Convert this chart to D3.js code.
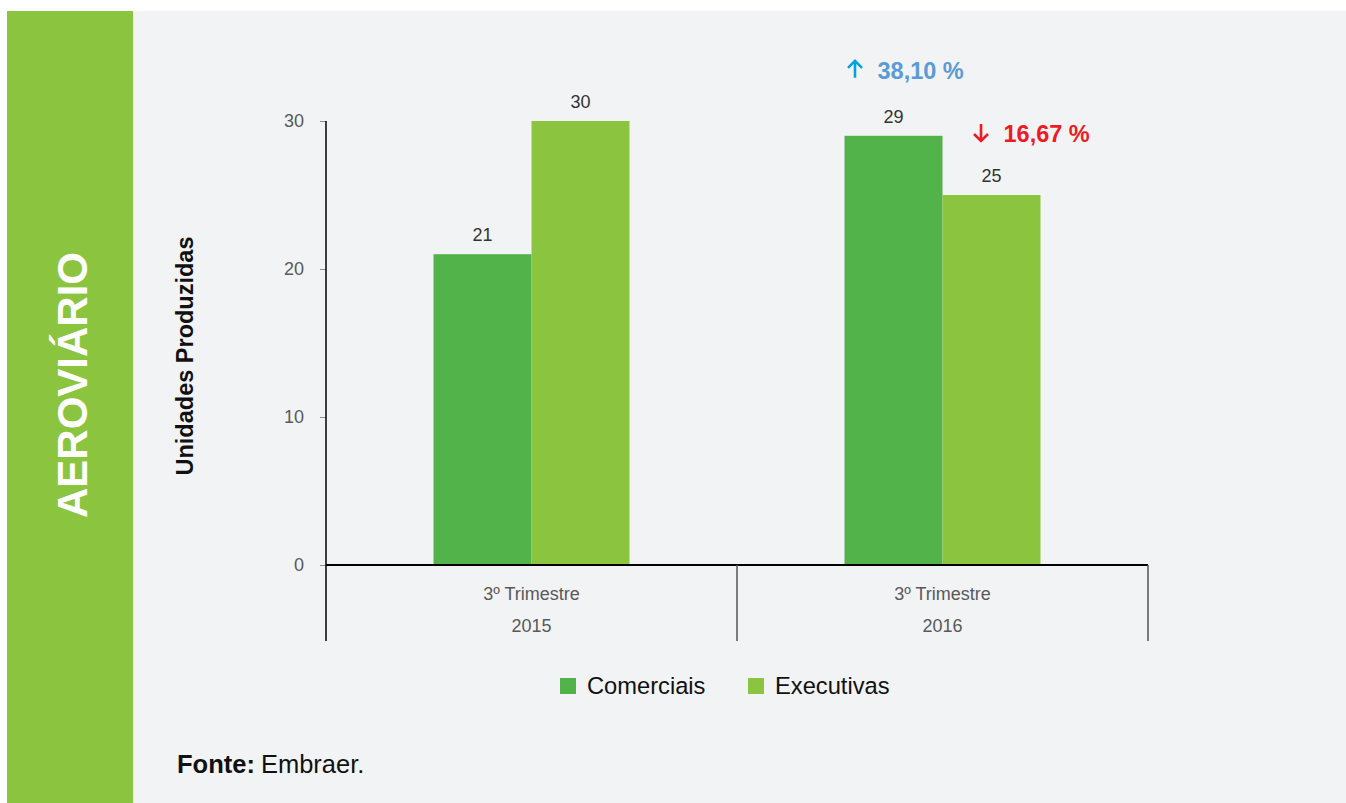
<!DOCTYPE html>
<html>
<head>
<meta charset="utf-8">
<script src="https://cdn.jsdelivr.net/npm/d3@7"></script>
<style>
  body { margin: 0; background: #fff; }
  svg { display: block; font-family: "Liberation Sans", Arial, sans-serif; }
</style>
</head>
<body>
<svg id="chart" width="1346" height="803"></svg>
<script>
const categories = ["2015", "2016"];
const categoryLine1 = ["3º Trimestre", "3º Trimestre"];
const seriesNames = ["Comerciais", "Executivas"];
const comerciais = [21, 29];
const executivas = [30, 25];
const yTicks = [0, 10, 20, 30];
const changes = [
  { series: "Comerciais", text: "38,10 %", dir: "up" },
  { series: "Executivas", text: "16,67 %", dir: "down" }
];

const colors = { Comerciais: "#52b34a", Executivas: "#8bc53f" };

const svg = d3.select("#chart");

// page panels
svg.append("rect").attr("x", 133).attr("y", 11).attr("width", 1213).attr("height", 792).attr("fill", "#f2f3f5");
svg.append("rect").attr("x", 7).attr("y", 11).attr("width", 126).attr("height", 792).attr("fill", "#8bc53f");
svg.append("text")
  .attr("transform", "translate(87,385) rotate(-90)")
  .attr("text-anchor", "middle")
  .attr("fill", "#fff")
  .attr("font-weight", "bold")
  .attr("font-size", 42)
  .text("AEROVIÁRIO");

const margin = { left: 326, right: 1148, top: 121, bottom: 565 };

const x0 = d3.scaleBand().domain(categories).range([margin.left, margin.right]);
const x1 = d3.scaleBand().domain(seriesNames).range([0, 196]);
const y = d3.scaleLinear().domain([0, 30]).range([margin.bottom, margin.top]);

const barOffset = (x0.bandwidth() - 196) / 2;

const data = categories.map((c, i) => ({
  cat: c,
  values: [
    { key: "Comerciais", value: comerciais[i] },
    { key: "Executivas", value: executivas[i] }
  ]
}));

// y axis
const yAxis = svg.append("g")
  .attr("transform", `translate(${margin.left},0)`)
  .call(d3.axisLeft(y).tickValues(yTicks).tickSize(6).tickPadding(16));
yAxis.select(".domain").remove();
yAxis.selectAll(".tick line").attr("stroke", "#8c8c8c");
yAxis.selectAll(".tick text").attr("fill", "#595959").attr("font-size", 18).attr("font-family", "Liberation Sans, Arial, sans-serif");

svg.append("line")
  .attr("x1", margin.left).attr("x2", margin.left)
  .attr("y1", y(30)).attr("y2", 641)
  .attr("stroke", "#000").attr("stroke-width", 1.5);

// bars
const groups = svg.selectAll(".grp").data(data).enter().append("g")
  .attr("transform", d => `translate(${x0(d.cat) + barOffset},0)`);

groups.selectAll("rect").data(d => d.values).enter().append("rect")
  .attr("x", d => x1(d.key))
  .attr("y", d => y(d.value))
  .attr("width", x1.bandwidth())
  .attr("height", d => y(0) - y(d.value))
  .attr("fill", d => colors[d.key]);

groups.selectAll(".val").data(d => d.values).enter().append("text")
  .attr("x", d => x1(d.key) + x1.bandwidth() / 2)
  .attr("y", d => y(d.value) - 13)
  .attr("text-anchor", "middle")
  .attr("fill", "#333")
  .attr("font-size", 18)
  .text(d => d.value);

// x axis line and separators
svg.append("line")
  .attr("x1", margin.left).attr("x2", margin.right)
  .attr("y1", y(0)).attr("y2", y(0))
  .attr("stroke", "#000").attr("stroke-width", 2);

categories.forEach((c, i) => {
  const xr = x0(c) + x0.bandwidth();
  svg.append("line")
    .attr("x1", xr).attr("x2", xr)
    .attr("y1", y(0)).attr("y2", 641)
    .attr("stroke", "#555").attr("stroke-width", 1.5);
  const cx = x0(c) + x0.bandwidth() / 2;
  svg.append("text").attr("x", cx).attr("y", 600).attr("text-anchor", "middle")
    .attr("fill", "#595959").attr("font-size", 18).text(categoryLine1[i]);
  svg.append("text").attr("x", cx).attr("y", 632).attr("text-anchor", "middle")
    .attr("fill", "#595959").attr("font-size", 18).text(c);
});

// y title
svg.append("text")
  .attr("transform", "translate(193,356) rotate(-90)")
  .attr("text-anchor", "middle")
  .attr("font-weight", "bold")
  .attr("font-size", 23.5)
  .attr("fill", "#111")
  .text("Unidades Produzidas");

// change annotations (2016)
const last = data[1];
const annCfg = {
  Comerciais: { arrowColor: "#00a3e0", textColor: "#5b9bd5", dx: 2, dy: -57 },
  Executivas: { arrowColor: "#ed1c24", textColor: "#ed1c24", dx: 30, dy: -53 }
};
changes.forEach(ch => {
  const v = last.values.find(d => d.key === ch.series);
  const cfg = annCfg[ch.series];
  const bx = x0(last.cat) + barOffset + x1(ch.series) + cfg.dx;
  const by = y(v.value) + cfg.dy;
  // arrow glyph: shaft + chevron head, 18px high
  const cx = bx + 8.5, top = by - 19, bot = by;
  const head = ch.dir === "up"
    ? `M${cx - 7},${top + 8}L${cx},${top + 1}L${cx + 7},${top + 8}`
    : `M${cx - 7},${bot - 8}L${cx},${bot - 1}L${cx + 7},${bot - 8}`;
  svg.append("path")
    .attr("d", `M${cx},${top + 1}L${cx},${bot - 1}` + head)
    .attr("fill", "none")
    .attr("stroke", cfg.arrowColor)
    .attr("stroke-width", 2.6)
    .attr("stroke-linejoin", "miter");
  svg.append("text").attr("x", bx + 31).attr("y", by)
    .attr("font-size", 23.5).attr("font-weight", "bold")
    .attr("fill", cfg.textColor).text(ch.text);
});

// legend
const legendX = [560, 748];
seriesNames.forEach((s, i) => {
  svg.append("rect").attr("x", legendX[i]).attr("y", 678).attr("width", 16).attr("height", 16).attr("fill", colors[s]);
  svg.append("text").attr("x", legendX[i] + 27).attr("y", 694).attr("font-size", 23.7).attr("fill", "#111").text(s);
});

// source
const src = svg.append("text").attr("x", 177).attr("y", 773).attr("font-size", 25.5).attr("fill", "#111");
src.append("tspan").attr("font-weight", "bold").text("Fonte:");
src.append("tspan").attr("dx", 6).text("Embraer.");
</script>
</body>
</html>
